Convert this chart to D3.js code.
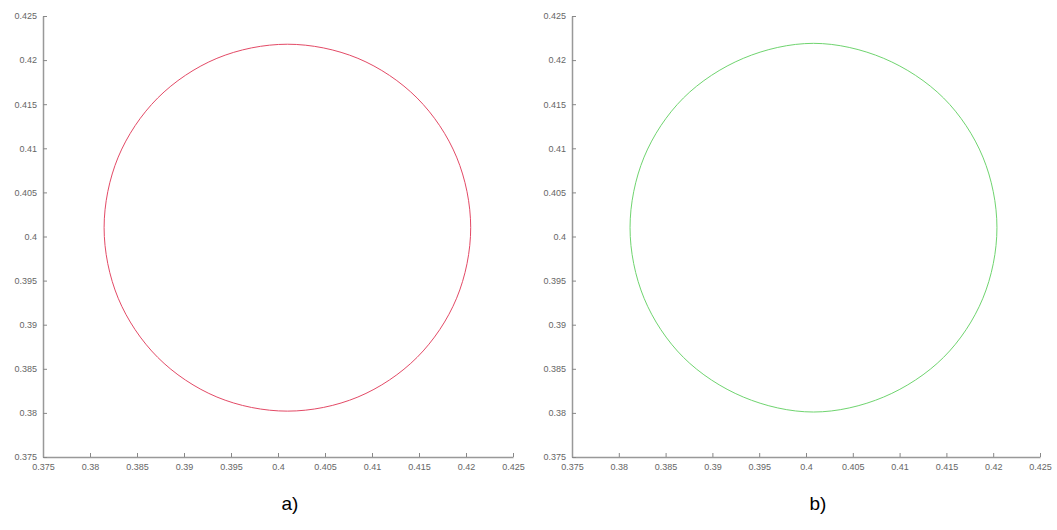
<!DOCTYPE html>
<html lang="en">
<head>
  <meta charset="UTF-8">
  <title>circle trajectories</title>
  <script src="https://d3js.org/d3.v7.min.js"></script>
  <style>
    body { margin: 0; background: #fff; }
  </style>
</head>
<body>
<script>
  // axis ticks (same for both panels)
  const xTicks = [0.375, 0.38, 0.385, 0.39, 0.395, 0.4, 0.405, 0.41, 0.415, 0.42, 0.425]
  const yTicks = [0.375, 0.38, 0.385, 0.39, 0.395, 0.4, 0.405, 0.41, 0.415, 0.42, 0.425]

  // panel a) red trace
  const redX = [0.4205, 0.4190, 0.4148, 0.4085, 0.4010, 0.3935, 0.3872, 0.3830,
                0.3815, 0.3830, 0.3872, 0.3935, 0.4010, 0.4085, 0.4148, 0.4190]
  const redY = [0.4010, 0.4090, 0.4157, 0.4202, 0.4218, 0.4202, 0.4157, 0.4090,
                0.4010, 0.3930, 0.3863, 0.3818, 0.3802, 0.3818, 0.3863, 0.3930]

  // panel b) green trace
  const greenX = [0.4204, 0.4189, 0.4147, 0.4083, 0.4008, 0.3933, 0.3869, 0.3827,
                  0.3812, 0.3827, 0.3869, 0.3933, 0.4008, 0.4083, 0.4147, 0.4189]
  const greenY = [0.4010, 0.4090, 0.4157, 0.4202, 0.4219, 0.4202, 0.4157, 0.4090,
                  0.4010, 0.3930, 0.3863, 0.3818, 0.3801, 0.3818, 0.3863, 0.3930]

  const panels = [
    { label: 'a)', xs: redX, ys: redY, color: '#e34a66', left: 43, right: 513 },
    { label: 'b)', xs: greenX, ys: greenY, color: '#6fd46f', left: 572, right: 1040 }
  ]

  const width = 1057
  const height = 530
  const plotTop = 16
  const plotBottom = 457

  const svg = d3.select('body').append('svg')
    .attr('width', width)
    .attr('height', height)
    .attr('viewBox', [0, 0, width, height])

  const fmt = d => String(+d.toFixed(3))

  panels.forEach(p => {
    const x = d3.scaleLinear().domain([0.375, 0.425]).range([p.left, p.right])
    const y = d3.scaleLinear().domain([0.375, 0.425]).range([plotBottom, plotTop])

    const g = svg.append('g')

    // x axis, ticks pointing up (inward)
    g.append('g')
      .attr('transform', `translate(0,${plotBottom})`)
      .call(d3.axisBottom(x).tickValues(xTicks).tickFormat(fmt).tickSize(-4).tickSizeOuter(0).tickPadding(7))
      .call(g => g.select('.domain').attr('stroke', '#999').attr('stroke-width', 1.5))
      .call(g => g.selectAll('.tick line').attr('stroke', '#888'))
      .call(g => g.selectAll('text')
        .attr('fill', '#666')
        .style('font-family', 'Liberation Sans, Arial, sans-serif')
        .style('font-size', '9px'))

    // y axis, ticks pointing right (inward)
    g.append('g')
      .attr('transform', `translate(${p.left},0)`)
      .call(d3.axisLeft(y).tickValues(yTicks).tickFormat(fmt).tickSize(-4).tickSizeOuter(0).tickPadding(6))
      .call(g => g.select('.domain').attr('stroke', '#999').attr('stroke-width', 1.5))
      .call(g => g.selectAll('.tick line').attr('stroke', '#888'))
      .call(g => g.selectAll('text')
        .attr('fill', '#666')
        .style('font-family', 'Liberation Sans, Arial, sans-serif')
        .style('font-size', '9px'))

    const pts = p.xs.map((v, i) => [v, p.ys[i]])
    const line = d3.line()
      .x(d => x(d[0]))
      .y(d => y(d[1]))
      .curve(d3.curveCatmullRomClosed)

    g.append('path')
      .datum(pts)
      .attr('d', line)
      .attr('fill', 'none')
      .attr('stroke', p.color)
      .attr('stroke-width', 1)

    g.append('text')
      .attr('x', (p.left + p.right) / 2 + 12)
      .attr('y', 510)
      .attr('text-anchor', 'middle')
      .style('font-family', 'Liberation Sans, Arial, sans-serif')
      .style('font-size', '19px')
      .attr('fill', '#000')
      .text(p.label)
  })
</script>
</body>
</html>
